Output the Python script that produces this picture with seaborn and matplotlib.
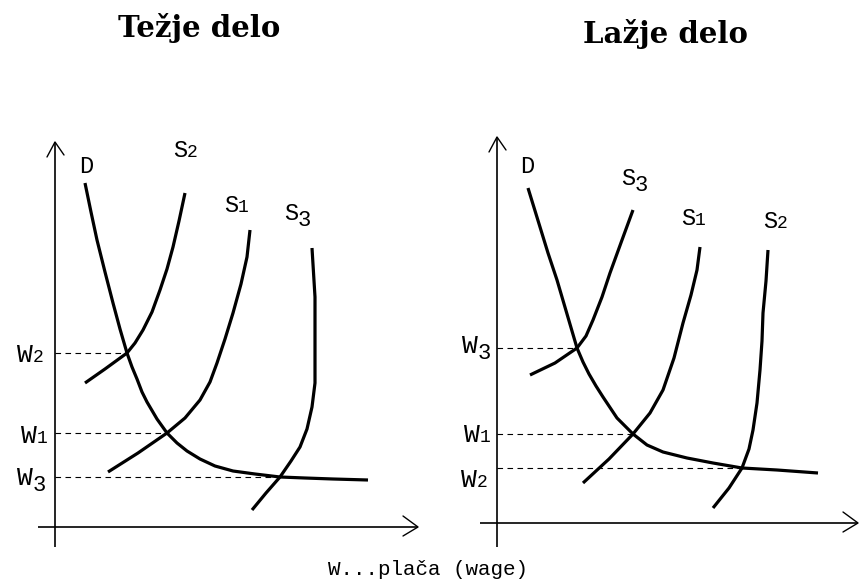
import matplotlib
matplotlib.use("Agg")
import matplotlib.pyplot as plt
import seaborn as sns
import pandas as pd

# ---------------- data: "Težje delo" (harder work) ----------------
hard_title = "Težje delo"
hard_D_x = [3.0, 3.6, 4.2, 5.0, 5.8, 6.5, 7.2, 7.7, 8.2, 8.7, 9.2, 10.2, 11.2, 12.2, 13.2, 14.5, 16.0, 17.8, 20.0, 22.5, 25.0, 27.8, 31.3]
hard_D_y = [34.4, 31.5, 28.7, 25.5, 22.4, 19.8, 17.4, 16.0, 14.8, 13.5, 12.5, 10.8, 9.4, 8.4, 7.6, 6.8, 6.1, 5.6, 5.3, 5.0, 4.9, 4.8, 4.7]
hard_S2_x = [3.0, 5.0, 7.2, 8.0, 8.8, 9.7, 10.5, 11.2, 11.8, 12.4, 13.0]
hard_S2_y = [14.4, 15.8, 17.4, 18.4, 19.7, 21.5, 23.7, 25.8, 28.0, 30.6, 33.4]
hard_S1_x = [5.3, 8.3, 11.2, 13.0, 14.5, 15.5, 16.2, 17.0, 17.8, 18.6, 19.2, 19.5]
hard_S1_y = [5.5, 7.4, 9.4, 10.9, 12.7, 14.5, 16.4, 18.8, 21.4, 24.3, 27.0, 29.7]
hard_S3_x = [19.7, 21.1, 22.5, 23.6, 24.5, 25.2, 25.7, 26.0, 26.0, 26.0, 25.7]
hard_S3_y = [1.7, 3.4, 5.0, 6.6, 8.0, 9.8, 12.0, 14.4, 18.5, 23.0, 27.9]
hard_wage_names = ["2", "1", "3"]
hard_wages = [17.4, 9.4, 5.0]
hard_wage_x = [7.2, 11.2, 22.5]

# ---------------- data: "Lažje delo" (easier work) ----------------
easy_title = "Lažje delo"
easy_D_x = [3.1, 4.3, 5.1, 6.0, 7.0, 8.0, 8.6, 9.2, 9.9, 10.6, 12.0, 13.6, 15.0, 16.6, 19.0, 21.6, 24.5, 28.0, 32.1]
easy_D_y = [33.5, 29.6, 27.0, 24.3, 20.9, 17.5, 16.1, 14.9, 13.7, 12.6, 10.5, 8.9, 7.8, 7.1, 6.5, 6.0, 5.5, 5.3, 5.0]
easy_S3_x = [3.3, 5.8, 8.0, 8.9, 9.6, 10.5, 11.3, 12.5, 13.6]
easy_S3_y = [14.8, 16.0, 17.5, 18.7, 20.3, 22.6, 25.0, 28.3, 31.3]
easy_S1_x = [8.6, 11.2, 13.6, 15.3, 16.6, 17.7, 18.6, 19.4, 20.0, 20.3]
easy_S1_y = [4.0, 6.4, 8.9, 11.0, 13.3, 16.5, 20.0, 22.8, 25.3, 27.6]
easy_S2_x = [21.6, 23.2, 24.5, 25.2, 25.6, 26.0, 26.3, 26.5, 26.6, 26.9, 27.1]
easy_S2_y = [1.5, 3.5, 5.5, 7.4, 9.3, 12.0, 15.3, 18.2, 21.0, 24.2, 27.3]
easy_wage_names = ["3", "1", "2"]
easy_wages = [17.5, 8.9, 5.5]
easy_wage_x = [8.0, 13.6, 24.5]

x_caption = "W...plača (wage)"

# ---------------- figure setup ----------------
sns.set_theme(style="white")
plt.rcParams["font.family"] = ["Liberation Mono", "DejaVu Sans"]

FIG_W, FIG_H, DPI = 859, 580, 100
fig = plt.figure(figsize=(FIG_W / DPI, FIG_H / DPI), dpi=DPI)
fig.patch.set_facecolor("white")

UNIT = 10  # pixels per data unit
LABEL_FONT = "Liberation Mono"


def panel_axes(origin, xlim, ylim):
    ox, oy = origin
    left = ox + xlim[0] * UNIT
    right = ox + xlim[1] * UNIT
    top = oy - ylim[1] * UNIT
    bottom = oy - ylim[0] * UNIT
    ax = fig.add_axes([left / FIG_W, 1 - bottom / FIG_H,
                       (right - left) / FIG_W, (bottom - top) / FIG_H])
    ax.set_xlim(*xlim)
    ax.set_ylim(*ylim)
    ax.axis("off")
    return ax


def curve(ax, xs, ys):
    df = pd.DataFrame({"x": xs, "y": ys})
    sns.lineplot(data=df, x="x", y="y", sort=False, estimator=None, ax=ax,
                 color="black", linewidth=2.3, solid_capstyle="butt",
                 solid_joinstyle="round")


def axes_arrows(ax, x_span, y_span):
    kw = dict(color="black", linewidth=1.2, solid_capstyle="butt")
    ax.plot([x_span[0], x_span[1]], [0, 0], **kw)
    ax.plot([0, 0], [y_span[0], y_span[1]], **kw)
    # open chevron heads
    xe, ye = x_span[1], y_span[1]
    ax.plot([xe - 1.5, xe, xe - 1.5], [1.1, 0, -0.9], color="black", linewidth=1.0)
    ax.plot([-0.8, 0, 0.9], [ye - 1.5, ye, ye - 1.3], color="black", linewidth=1.0)


def sub_label(ax, letter, digit, x, y, size, dsize):
    ax.text(x, y, letter, ha="right", va="baseline", fontsize=size,
            family=LABEL_FONT, color="black")
    if digit == "3":
        ax.annotate(digit, (x, y), xytext=(0, -4.5), textcoords="offset points",
                    ha="left", va="baseline", fontsize=dsize + 3,
                    family=LABEL_FONT, color="black")
    else:
        ax.text(x, y, digit, ha="left", va="baseline", fontsize=dsize,
                family=LABEL_FONT, color="black")


def guides(ax, wages, xs):
    for w, xe in zip(wages, xs):
        ax.plot([0, xe], [w, w], color="black", linewidth=0.8,
                linestyle=(0, (5, 4)))


# ---------------- left panel ----------------
axL = panel_axes((55, 527), (-5.5, 37.5), (-4.0, 40.0))
axes_arrows(axL, (-1.7, 36.3), (-2.0, 38.5))
guides(axL, hard_wages, hard_wage_x)
curve(axL, hard_D_x, hard_D_y)
curve(axL, hard_S2_x, hard_S2_y)
curve(axL, hard_S1_x, hard_S1_y)
curve(axL, hard_S3_x, hard_S3_y)
axL.text(3.1, 35.4, "D", ha="center", va="baseline", fontsize=17,
         family=LABEL_FONT, color="black")
sub_label(axL, "S", "2", 13.2, 37.0, 17, 13)
sub_label(axL, "S", "1", 18.3, 31.5, 17, 13)
sub_label(axL, "S", "3", 24.3, 30.7, 17, 13)
hard_label_pos = [(-2.2, 16.5), (-1.8, 8.4), (-2.2, 4.2)]
for name, (lx, ly) in zip(hard_wage_names, hard_label_pos):
    sub_label(axL, "W", name, lx, ly, 19, 13)

# ---------------- right panel ----------------
axR = panel_axes((497, 523), (-5.0, 36.2), (-4.0, 40.0))
axes_arrows(axR, (-1.7, 36.1), (-2.4, 38.6))
guides(axR, easy_wages, easy_wage_x)
curve(axR, easy_D_x, easy_D_y)
curve(axR, easy_S3_x, easy_S3_y)
curve(axR, easy_S1_x, easy_S1_y)
curve(axR, easy_S2_x, easy_S2_y)
axR.text(3.0, 35.0, "D", ha="center", va="baseline", fontsize=17,
         family=LABEL_FONT, color="black")
sub_label(axR, "S", "3", 13.8, 33.8, 17, 13)
sub_label(axR, "S", "1", 19.8, 29.8, 17, 13)
sub_label(axR, "S", "2", 28.0, 29.5, 17, 13)
easy_label_pos = [(-1.9, 17.0), (-1.7, 8.1), (-2.0, 3.6)]
for name, (lx, ly) in zip(easy_wage_names, easy_label_pos):
    sub_label(axR, "W", name, lx, ly, 19, 13)

# ---------------- titles and caption ----------------
fig.text(199 / FIG_W, 1 - 37 / FIG_H, hard_title, ha="center", va="baseline",
         family="DejaVu Serif", weight="bold", fontsize=21, color="black")
fig.text(665 / FIG_W, 1 - 43 / FIG_H, easy_title, ha="center", va="baseline",
         family="DejaVu Serif", weight="bold", fontsize=21, color="black")
fig.text(428 / FIG_W, 1 - 575 / FIG_H, x_caption, ha="center", va="baseline",
         family=LABEL_FONT, fontsize=15, color="black")

fig.savefig("out.png", dpi=DPI, facecolor="white")
